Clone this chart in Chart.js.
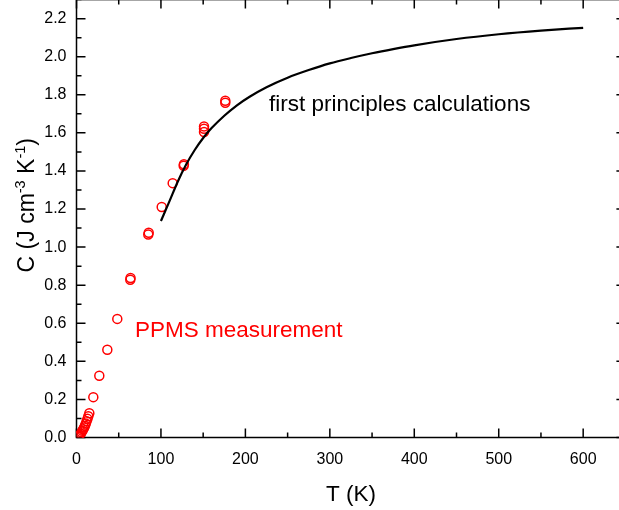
<!DOCTYPE html>
<html>
<head>
<meta charset="utf-8">
<script src="https://cdn.jsdelivr.net/npm/chart.js@4.4.1/dist/chart.umd.min.js"></script>
<style>
  html, body { margin: 0; padding: 0; background: #fff; overflow: hidden; }
  #wrap { position: relative; width: 619px; height: 510px; overflow: hidden; }
  #heatCapacityChart { position: absolute; left: 0; top: -20px; }
</style>
</head>
<body>
<div id="wrap"><canvas id="heatCapacityChart" width="640" height="530"></canvas></div>
<script>
// tick labels
const xTicks = [0, 100, 200, 300, 400, 500, 600];
const yTicks = [0.0, 0.2, 0.4, 0.6, 0.8, 1.0, 1.2, 1.4, 1.6, 1.8, 2.0, 2.2];

// PPMS measurement (T in K, C in J cm^-3 K^-1)
const ppmsTemps = [2, 2.5, 3, 4, 5, 6, 7, 8, 9, 10, 11, 12, 13, 14, 15.2,
  19.9, 27.0, 36.5, 48.3, 63.7, 64, 85, 85.5, 100.9, 113.9, 126.9, 127.2,
  151, 151, 151, 176.2, 176.2];
const ppmsHeat = [0.004, 0.006, 0.009, 0.014, 0.020, 0.027, 0.035, 0.043, 0.052, 0.062, 0.073, 0.085, 0.098, 0.112, 0.127,
  0.212, 0.324, 0.461, 0.623, 0.829, 0.838, 1.066, 1.075, 1.211, 1.336, 1.427, 1.435,
  1.634, 1.622, 1.605, 1.769, 1.758];

// first principles calculations
const calcTemps = [100, 110, 120, 130, 140, 150, 160, 175, 190, 205, 225, 250, 275, 300, 325, 350, 375, 400, 450, 500, 550, 600];
const calcHeat = [1.137, 1.24, 1.345, 1.435, 1.51, 1.573, 1.625, 1.69, 1.745, 1.79, 1.84, 1.89, 1.93, 1.965, 1.993, 2.018, 2.04, 2.06, 2.093, 2.118, 2.137, 2.152];

const FONT = '"Liberation Sans", Arial, Helvetica, sans-serif';

const frameTicks = {
  id: 'frameTicks',
  beforeDatasetsDraw(chart) {
    const { ctx, chartArea: a, scales: { x, y } } = chart;
    ctx.save();
    ctx.strokeStyle = '#000';
    ctx.lineWidth = 1.5;
    ctx.strokeRect(a.left, a.top, a.right - a.left, a.bottom - a.top);
    ctx.beginPath();
    for (let v = 0; v <= 650; v += 50) {
      const px = x.getPixelForValue(v);
      const len = v % 100 === 0 ? 9 : 5;
      ctx.moveTo(px, a.bottom); ctx.lineTo(px, a.bottom - len);
      ctx.moveTo(px, a.top); ctx.lineTo(px, a.top + len);
    }
    for (let i = 0; i <= 23; i++) {
      const py = y.getPixelForValue(i / 10);
      const len = i % 2 === 0 ? 9 : 5;
      ctx.moveTo(a.left, py); ctx.lineTo(a.left + len, py);
      ctx.moveTo(a.right, py); ctx.lineTo(a.right - len, py);
    }
    ctx.stroke();
    ctx.restore();
  },
  afterDraw(chart) {
    const { ctx, chartArea: a, scales: { x, y } } = chart;
    ctx.save();
    ctx.textBaseline = 'alphabetic';

    // annotations
    ctx.font = '22.5px ' + FONT;
    ctx.textAlign = 'left';
    ctx.fillStyle = '#000';
    ctx.fillText('first principles calculations', x.getPixelForValue(228), y.getPixelForValue(1.715));
    ctx.fillStyle = '#ff0000';
    ctx.fillText('PPMS measurement', x.getPixelForValue(69.3), y.getPixelForValue(0.526));

    // x title
    ctx.fillStyle = '#000';
    ctx.textAlign = 'center';
    ctx.fillText('T (K)', (a.left + a.right) / 2, a.bottom + 63);

    // y title with superscripts
    const parts = [
      ['C (J cm', false], ['-3', true], [' K', false], ['-1', true], [')', false]
    ];
    const big = '23px ' + FONT, small = '14.5px ' + FONT;
    let total = 0;
    parts.forEach(([t, sup]) => { ctx.font = sup ? small : big; total += ctx.measureText(t).width; });
    ctx.translate(a.left - 42.5, y.getPixelForValue(1.22));
    ctx.rotate(-Math.PI / 2);
    ctx.textAlign = 'left';
    let cx = -total / 2;
    parts.forEach(([t, sup]) => {
      ctx.font = sup ? small : big;
      ctx.fillText(t, cx, sup ? -9 : 0);
      cx += ctx.measureText(t).width;
    });
    ctx.restore();
  }
};

new Chart(document.getElementById('heatCapacityChart'), {
  type: 'scatter',
  data: {
    datasets: [
      {
        label: 'first principles calculations',
        data: calcTemps.map((t, i) => ({ x: t, y: calcHeat[i] })),
        showLine: true,
        borderColor: '#000',
        borderWidth: 2.2,
        pointRadius: 0,
        cubicInterpolationMode: 'monotone',
        fill: false,
      },
      {
        label: 'PPMS measurement',
        data: ppmsTemps.map((t, i) => ({ x: t, y: ppmsHeat[i] })),
        pointStyle: 'circle',
        pointRadius: 4.5,
        pointBorderWidth: 1.5,
        borderColor: '#ff0000',
        backgroundColor: 'rgba(0,0,0,0)',
      },
    ]
  },
  options: {
    responsive: false,
    devicePixelRatio: 1,
    animation: false,
    layout: { padding: { top: 17.7, right: 14.6, left: 0, bottom: 0 } },
    plugins: { legend: { display: false }, tooltip: { enabled: false } },
    scales: {
      x: {
        type: 'linear',
        min: 0,
        max: 650,
        afterBuildTicks: s => { s.ticks = xTicks.map(v => ({ value: v })); },
        afterFit: s => { s.height = 72.5; },
        ticks: { color: '#000', font: { family: FONT, size: 16 }, padding: 12, maxRotation: 0 },
        grid: { display: false, drawTicks: false },
        border: { display: false },
      },
      y: {
        type: 'linear',
        min: 0,
        max: 2.3,
        afterBuildTicks: s => { s.ticks = yTicks.map(v => ({ value: v })); },
        afterFit: s => { s.width = 76.5; },
        ticks: { color: '#000', font: { family: FONT, size: 16 }, padding: 10, callback: v => v.toFixed(1) },
        grid: { display: false, drawTicks: false },
        border: { display: false },
      },
    },
  },
  plugins: [frameTicks],
});
</script>
</body>
</html>
